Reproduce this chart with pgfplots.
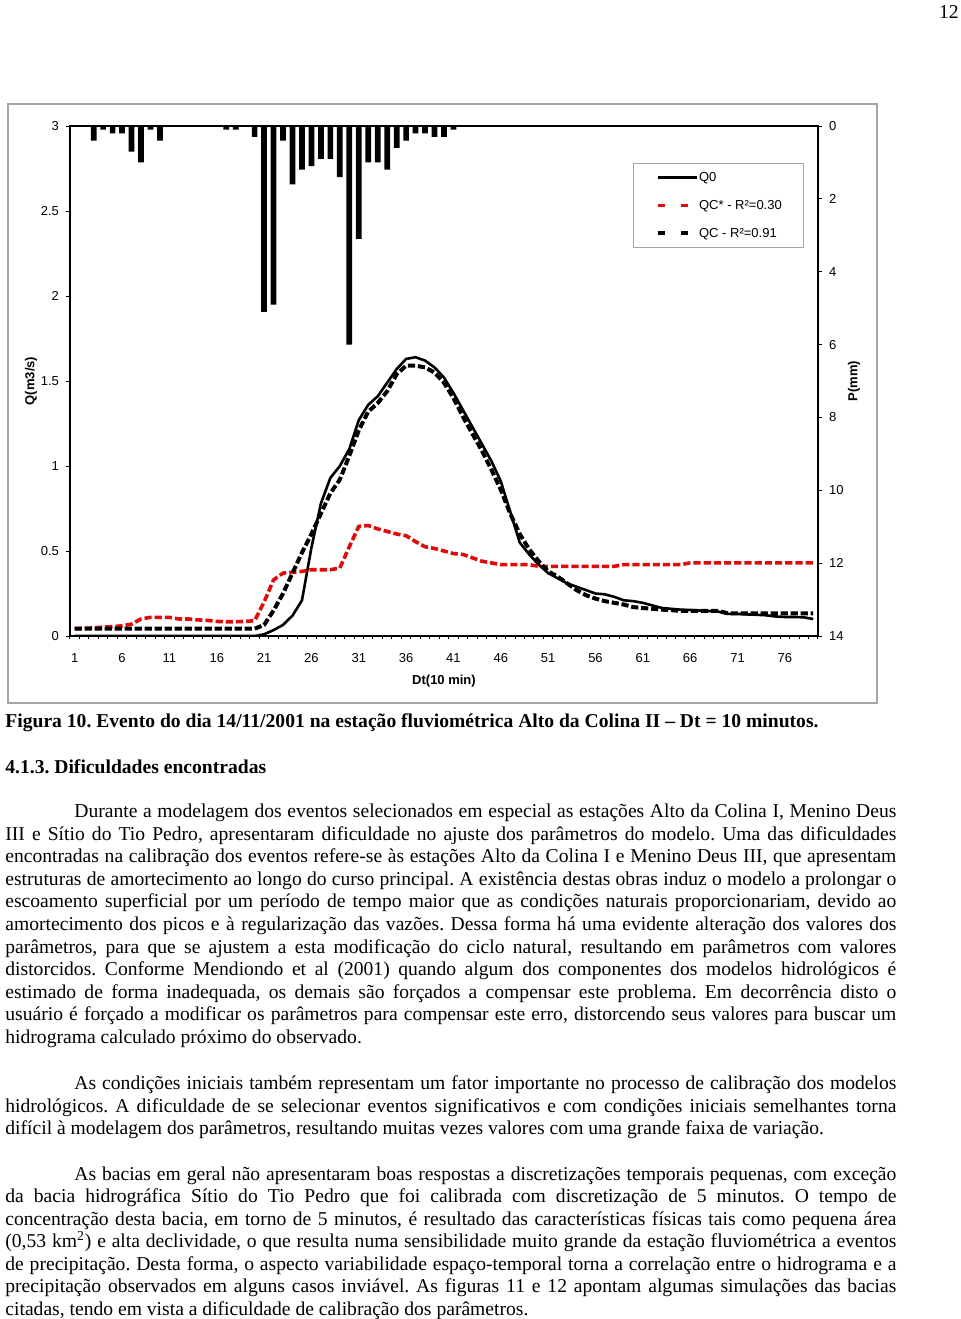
\documentclass[border=0pt]{standalone}
\usepackage{fontspec}
\setmainfont{Liberation Serif}
\newfontfamily\chartfont{Liberation Sans}
\usepackage{pgfplots}
\pgfplotsset{compat=1.18}
\definecolor{qcred}{RGB}{225,10,10}
\definecolor{framegray}{RGB}{165,165,165}
\newcommand\cf{\chartfont\fontsize{6.5pt}{7.8pt}\selectfont}
\newcommand\bodyfont{\fontsize{9.8pt}{11.25pt}\selectfont\frenchspacing}
\newcommand\jl[1]{\makebox[445.5pt][s]{#1}}
\newcommand\jlf[1]{\makebox[411pt][s]{#1}}
\newcommand\tl[2]{\node[anchor=base west,inner sep=0pt] at (2.5pt,-#1pt) {\bodyfont\jl{#2}};}
\newcommand\tf[2]{\node[anchor=base west,inner sep=0pt] at (37pt,-#1pt) {\bodyfont\jlf{#2}};}
\newcommand\tn[2]{\node[anchor=base west,inner sep=0pt] at (2.5pt,-#1pt) {\bodyfont #2};}
\begin{document}
\begin{tikzpicture}
\useasboundingbox (0,0) rectangle (480pt,-659.5pt);
\node[anchor=base east,inner sep=0pt] at (479.5pt,-9.35pt) {\bodyfont 12};
\draw[framegray,line width=0.6pt] (4pt,-52pt) rectangle (438.5pt,-351.5pt);

\begin{axis}[
  at={(35pt,-318pt)}, anchor=south west,
  scale only axis, width=374pt, height=255pt,
  xmin=0.5, xmax=79.5, ymin=0, ymax=3,
  axis line style={line width=0.8pt},
  xtick={1,6,...,76},
  minor xtick={0.5,1.5,...,79.5},
  major x tick style={draw=none},
  ytick={0,0.5,...,3},
  xtick pos=bottom, ytick pos=left,
  tick align=outside,
  major tick length=2pt, minor tick length=1.5pt,
  tick style={black, line width=0.5pt},
  tick label style={font=\cf},
  /pgf/number format/assume math mode=true,
  xticklabel style={yshift=-3.3pt},
  xlabel={Dt(10 min)},
  xlabel style={at={(axis description cs:0.5,-0.088)}, anchor=center, font=\cf\bfseries},
  ylabel={Q(m3/s)},
  ylabel style={at={(axis description cs:-0.0521,0.5)}, anchor=center, font=\cf\bfseries},
  legend style={at={(axis description cs:0.7527,0.9275)}, anchor=north west,
    draw=framegray, line width=0.5pt, fill=white, font=\cf,
    inner xsep=11pt, inner ysep=3pt, row sep=6pt,
    nodes={inner xsep=0pt, inner ysep=1pt, text height=4.8pt, text depth=1.2pt}},
  legend cell align=left,
]
\addplot[black, line width=1.3pt,
  legend image code/.code={\draw[black,line width=1.3pt] (0pt,0pt) -- (19.8pt,0pt);}]
coordinates {(1,0) (2,0) (3,0) (4,0) (5,0) (6,0) (7,0) (8,0) (9,0) (10,0) (11,0) (12,0) (13,0) (14,0) (15,0) (16,0) (17,0) (18,0) (19,0) (20,0)
(21,0.01) (22,0.035) (23,0.065) (24,0.12) (25,0.21) (26,0.52) (27,0.78) (28,0.93) (29,1.0) (30,1.10)
(31,1.27) (32,1.36) (33,1.41) (34,1.49) (35,1.57) (36,1.63) (37,1.64) (38,1.62) (39,1.58) (40,1.52)
(41,1.43) (42,1.33) (43,1.23) (44,1.13) (45,1.03) (46,0.91) (47,0.73) (48,0.55) (49,0.48) (50,0.42)
(51,0.37) (52,0.34) (53,0.31) (54,0.29) (55,0.27) (56,0.25) (57,0.245) (58,0.23) (59,0.21) (60,0.205)
(61,0.195) (62,0.18) (63,0.165) (64,0.16) (65,0.155) (66,0.153) (67,0.15) (68,0.147) (69,0.143) (70,0.13)
(71,0.13) (72,0.127) (73,0.125) (74,0.122) (75,0.115) (76,0.112) (77,0.112) (78,0.11) (79,0.10)};
\addlegendentry{Q0}
\addplot[qcred, line width=1.8pt, dash pattern=on 3.6pt off 1.5pt,
  legend image code/.code={\draw[qcred,line width=1.8pt,dash pattern=on 3.5pt off 8pt] (0pt,0pt) -- (19.8pt,0pt);}]
coordinates {(1,0.043) (2,0.045) (3,0.048) (4,0.052) (5,0.055) (6,0.06) (7,0.07) (8,0.10) (9,0.11) (10,0.11)
(11,0.11) (12,0.10) (13,0.10) (14,0.095) (15,0.092) (16,0.086) (17,0.084) (18,0.084) (19,0.086) (20,0.09)
(21,0.20) (22,0.33) (23,0.37) (24,0.375) (25,0.38) (26,0.39) (27,0.39) (28,0.39) (29,0.40) (30,0.525)
(31,0.645) (32,0.65) (33,0.63) (34,0.615) (35,0.60) (36,0.59) (37,0.555) (38,0.525) (39,0.515) (40,0.50)
(41,0.485) (42,0.48) (43,0.46) (44,0.44) (45,0.43) (46,0.42) (47,0.42) (48,0.42) (49,0.42) (50,0.41)
(51,0.41) (52,0.41) (53,0.41) (54,0.41) (55,0.41) (56,0.41) (57,0.41) (58,0.41) (59,0.42) (60,0.42)
(61,0.42) (62,0.42) (63,0.42) (64,0.42) (65,0.42) (66,0.43) (67,0.43) (68,0.43) (69,0.43) (70,0.43)
(71,0.43) (72,0.43) (73,0.43) (74,0.43) (75,0.43) (76,0.43) (77,0.43) (78,0.43) (79,0.43)};
\addlegendentry{QC* - R²=0.30}
\addplot[black, line width=2pt, dash pattern=on 3.6pt off 1.4pt,
  legend image code/.code={\draw[black,line width=2pt,dash pattern=on 3.5pt off 8pt] (0pt,0pt) -- (19.8pt,0pt);}]
coordinates {(1,0.043) (2,0.043) (3,0.043) (4,0.043) (5,0.043) (6,0.043) (7,0.043) (8,0.043) (9,0.043) (10,0.043)
(11,0.043) (12,0.043) (13,0.043) (14,0.043) (15,0.043) (16,0.043) (17,0.043) (18,0.043) (19,0.043) (20,0.043)
(21,0.065) (22,0.15) (23,0.25) (24,0.37) (25,0.49) (26,0.60) (27,0.72) (28,0.84) (29,0.92) (30,1.06)
(31,1.21) (32,1.32) (33,1.37) (34,1.44) (35,1.54) (36,1.59) (37,1.59) (38,1.58) (39,1.55) (40,1.49)
(41,1.40) (42,1.29) (43,1.19) (44,1.09) (45,0.98) (46,0.86) (47,0.72) (48,0.60) (49,0.51) (50,0.44)
(51,0.38) (52,0.35) (53,0.31) (54,0.27) (55,0.24) (56,0.22) (57,0.205) (58,0.195) (59,0.185) (60,0.17)
(61,0.165) (62,0.16) (63,0.155) (64,0.152) (65,0.148) (66,0.148) (67,0.148) (68,0.148) (69,0.148) (70,0.133)
(71,0.133) (72,0.133) (73,0.133) (74,0.133) (75,0.133) (76,0.133) (77,0.133) (78,0.133) (79,0.133)};
\addlegendentry{QC - R²=0.91}
\end{axis}

\begin{axis}[
  at={(35pt,-318pt)}, anchor=south west,
  scale only axis, width=374pt, height=255pt,
  xmin=0.5, xmax=79.5, ymin=0, ymax=14, y dir=reverse,
  axis line style={line width=0.8pt},
  xtick=\empty,
  ytick={0,2,...,14},
  ytick pos=right, yticklabel pos=right,
  tick align=outside, major tick length=2pt,
  tick style={black, line width=0.5pt},
  tick label style={font=\cf},
  /pgf/number format/assume math mode=true,
  ylabel={P(mm)},
  ylabel style={at={(axis description cs:1.0481,0.5)}, anchor=center, font=\cf\bfseries},
]
\addplot[ybar, bar width=2.85pt, fill=black, draw=none]
coordinates {(3,0.4) (4,0.1) (5,0.2) (6,0.2) (7,0.7) (8,1.0) (9,0.1) (10,0.4) (17,0.1) (18,0.1)
(20,0.3) (21,5.1) (22,4.9) (23,0.4) (24,1.6) (25,1.2) (26,1.1) (27,0.9) (28,0.9) (29,1.4)
(30,6.0) (31,3.1) (32,1.0) (33,1.0) (34,1.2) (35,0.6) (36,0.4) (37,0.2) (38,0.2) (39,0.3)
(40,0.3) (41,0.1)};
\end{axis}

\node[anchor=base west,inner sep=0pt] at (2.5pt,-363.65pt) {\bodyfont\bfseries Figura 10. Evento do dia 14/11/2001 na estação fluviométrica Alto da Colina II – Dt = 10 minutos.};
\node[anchor=base west,inner sep=0pt] at (2.5pt,-386.85pt) {\bodyfont\bfseries 4.1.3. Dificuldades encontradas};

\tf{408.75}{Durante a modelagem dos eventos selecionados em especial as estações Alto da Colina I, Menino Deus}
\tl{420.05}{III e Sítio do Tio Pedro, apresentaram dificuldade no ajuste dos parâmetros do modelo. Uma das dificuldades}
\tl{431.35}{encontradas na calibração dos eventos refere-se às estações Alto da Colina I e Menino Deus III, que apresentam}
\tl{442.65}{estruturas de amortecimento ao longo do curso principal. A existência destas obras induz o modelo a prolongar o}
\tl{453.95}{escoamento superficial por um período de tempo maior que as condições naturais proporcionariam, devido ao}
\tl{465.25}{amortecimento dos picos e à regularização das vazões. Dessa forma há uma evidente alteração dos valores dos}
\tl{476.55}{parâmetros, para que se ajustem a esta modificação do ciclo natural, resultando em parâmetros com valores}
\tl{487.85}{distorcidos. Conforme Mendiondo et al (2001) quando algum dos componentes dos modelos hidrológicos é}
\tl{499.15}{estimado de forma inadequada, os demais são forçados a compensar este problema. Em decorrência disto o}
\tl{510.45}{usuário é forçado a modificar os parâmetros para compensar este erro, distorcendo seus valores para buscar um}
\tn{521.75}{hidrograma calculado próximo do observado.}

\tf{544.9}{As condições iniciais também representam um fator importante no processo de calibração dos modelos}
\tl{556.15}{hidrológicos. A dificuldade de se selecionar eventos significativos e com condições iniciais semelhantes torna}
\tn{567.4}{difícil à modelagem dos parâmetros, resultando muitas vezes valores com uma grande faixa de variação.}

\tf{590.15}{As bacias em geral não apresentaram boas respostas a discretizações temporais pequenas, com exceção}
\tl{601.4}{da bacia hidrográfica Sítio do Tio Pedro que foi calibrada com discretização de 5 minutos. O tempo de}
\tl{612.65}{concentração desta bacia, em torno de 5 minutos, é resultado das características físicas tais como pequena área}
\tl{623.9}{(0,53 km\textsuperscript{2}) e alta declividade, o que resulta numa sensibilidade muito grande da estação fluviométrica a eventos}
\tl{635.15}{de precipitação. Desta forma, o aspecto variabilidade espaço-temporal torna a correlação entre o hidrograma e a}
\tl{646.4}{precipitação observados em alguns casos inviável. As figuras 11 e 12 apontam algumas simulações das bacias}
\tn{657.65}{citadas, tendo em vista a dificuldade de calibração dos parâmetros.}
\end{tikzpicture}
\end{document}
